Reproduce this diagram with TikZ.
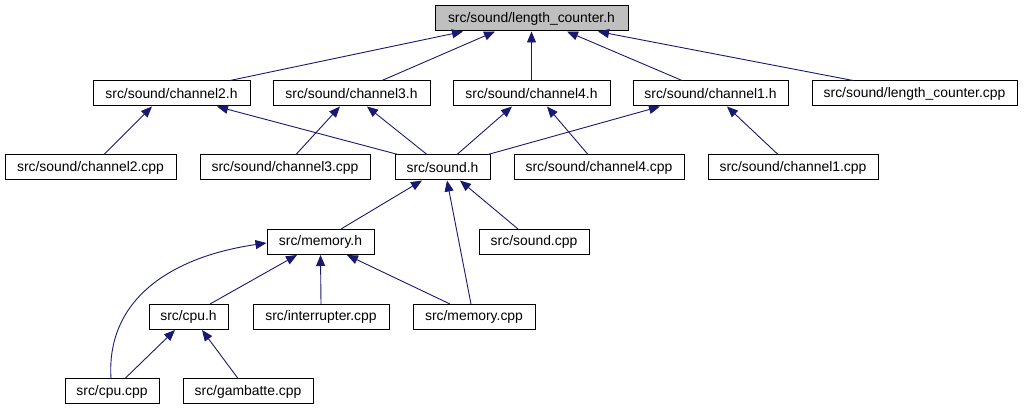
\documentclass[tikz,border=0pt]{standalone}
\usepackage{fontspec}
\setmainfont{Liberation Sans}
\usetikzlibrary{arrows.meta}
\definecolor{edgeblue}{HTML}{191970}
\tikzset{
  box/.style={draw=black, line width=1pt, fill=white, inner sep=0pt, minimum height=25pt, font=\fontsize{13.9}{15}\selectfont},
  topbox/.style={box, fill=black!25},
  edge/.style={draw=edgeblue, line width=0.9pt, -{Triangle[length=11pt,width=9pt]}},
}
\begin{document}
\begin{tikzpicture}[x=1pt,y=-1pt]
\useasboundingbox[fill=white] (0,0) rectangle (1026,411);
\node[topbox, minimum width=193pt] (lch) at (531.5,18.5) {src/sound/length\_counter.h};
\node[box, minimum width=157pt] (c2h) at (171.5,93.5) {src/sound/channel2.h};
\node[box, minimum width=157pt] (c3h) at (351.5,93.5) {src/sound/channel3.h};
\node[box, minimum width=157pt] (c4h) at (531.5,93.5) {src/sound/channel4.h};
\node[box, minimum width=155pt] (c1h) at (710.5,93.5) {src/sound/channel1.h};
\node[box, minimum width=205pt] (lcc) at (914.5,93.5) {src/sound/length\_counter.cpp};
\node[box, minimum width=171pt] (c2c) at (90.5,167.5) {src/sound/channel2.cpp};
\node[box, minimum width=170pt] (c3c) at (285,167.5) {src/sound/channel3.cpp};
\node[box, minimum width=95pt] (sh) at (442.5,167.5) {src/sound.h};
\node[box, minimum width=170pt] (c4c) at (599,167.5) {src/sound/channel4.cpp};
\node[box, minimum width=170pt] (c1c) at (793,167.5) {src/sound/channel1.cpp};
\node[box, minimum width=107pt] (mh) at (320.5,242) {src/memory.h};
\node[box, minimum width=110pt] (sc) at (534,242) {src/sound.cpp};
\node[box, minimum width=79pt] (cpuh) at (188.5,317) {src/cpu.h};
\node[box, minimum width=136pt] (ic) at (321,317) {src/interrupter.cpp};
\node[box, minimum width=122pt] (mc) at (474,317) {src/memory.cpp};
\node[box, minimum width=94pt] (cc) at (112,391.5) {src/cpu.cpp};
\node[box, minimum width=130pt] (gc) at (248,391.5) {src/gambatte.cpp};

\draw[edge] ([xshift=58.5]c2h.north) -- ([xshift=-68.5]lch.south);
\draw[edge] ([xshift=30.5]c3h.north) -- ([xshift=-36.5]lch.south);
\draw[edge] (c4h.north) -- (lch.south);
\draw[edge] ([xshift=-28.5]c1h.north) -- ([xshift=35.5]lch.south);
\draw[edge] ([xshift=-61.5]lcc.north) -- ([xshift=66.5]lch.south);

\draw[edge] ([xshift=13.5]c2c.north) -- ([xshift=-19.5]c2h.south);
\draw[edge] ([xshift=-44.5]sh.north) -- ([xshift=45.5]c2h.south);
\draw[edge] ([xshift=11]c3c.north) -- ([xshift=-11.5]c3h.south);
\draw[edge] ([xshift=-15.5]sh.north) -- ([xshift=15.5]c3h.south);
\draw[edge] ([xshift=14.5]sh.north) -- ([xshift=-19.5]c4h.south);
\draw[edge] ([xshift=-11]c4c.north) -- ([xshift=15.5]c4h.south);
\draw[edge] ([xshift=45.5]sh.north) -- ([xshift=-50.5]c1h.south);
\draw[edge] ([xshift=-15]c1c.north) -- ([xshift=16.5]c1h.south);

\draw[edge] ([xshift=20.5]mh.north) -- ([xshift=-20.5]sh.south);
\draw[edge] ([xshift=-3]mc.north) -- ([xshift=4.5]sh.south);
\draw[edge] ([xshift=-16]sc.north) -- ([xshift=17.5]sh.south);

\draw[edge] ([xshift=21.5]cpuh.north) -- ([xshift=-23.5]mh.south);
\draw[edge] (ic.north) -- (mh.south);
\draw[edge] ([xshift=-24]mc.north) -- ([xshift=26.5]mh.south);
\draw[edge] ([xshift=-1]cc.north) .. controls (106,300) and (170,257) .. ([yshift=-1]mh.west);

\draw[edge] ([xshift=13]cc.north) -- ([xshift=-13.5]cpuh.south);
\draw[edge] ([xshift=-10]gc.north) -- ([xshift=13.5]cpuh.south);
\end{tikzpicture}
\end{document}
